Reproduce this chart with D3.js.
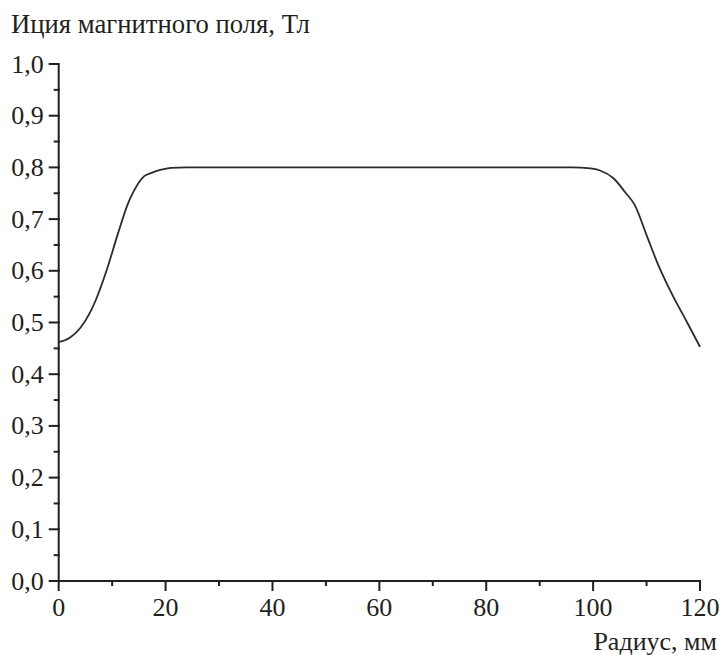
<!DOCTYPE html>
<html><head><meta charset="utf-8">
<script src="https://cdn.jsdelivr.net/npm/d3@7"></script>
<style>
html,body{margin:0;padding:0;background:#fff;}
svg{display:block;}
text{font-family:"Liberation Serif","Times New Roman",serif;fill:#231f20;}
</style></head>
<body>
<script>
const radius = [0, 2, 4, 6, 7, 9, 11, 13, 14, 16, 17.5, 19, 21, 24, 40, 60, 80, 96, 99.5, 101.3, 103.8, 106, 107.8, 110, 112.2, 115, 117.5, 120];
const induction = [0.462, 0.470, 0.489, 0.522, 0.545, 0.602, 0.669, 0.731, 0.753, 0.783, 0.790, 0.795, 0.799, 0.800, 0.800, 0.800, 0.800, 0.800, 0.798, 0.794, 0.779, 0.752, 0.727, 0.669, 0.611, 0.550, 0.502, 0.453];
const xTicks = [0, 20, 40, 60, 80, 100, 120];
const xMinor = [10, 30, 50, 70, 90, 110];
const yTicks = [0, 0.1, 0.2, 0.3, 0.4, 0.5, 0.6, 0.7, 0.8, 0.9, 1.0];
const yMinor = [0.05, 0.15, 0.25, 0.35, 0.45, 0.55, 0.65, 0.75, 0.85, 0.95];
const yTitle = "Иция магнитного поля, Тл";
const xTitle = "Радиус, мм";

const W = 721, H = 655;
const svg = d3.select("body").append("svg").attr("width", W).attr("height", H);
const x = d3.scaleLinear().domain([0, 120]).range([58.7, 700]);
const y = d3.scaleLinear().domain([0, 1]).range([581, 64]);
const fmt = d => d.toFixed(1).replace(".", ",");
const ink = "#231f20";
const fs = 26;

// x axis
const gx = svg.append("g").attr("transform", `translate(0,${y(0)})`);
gx.append("line").attr("x1", x(0)).attr("x2", x(120)).attr("stroke", ink).attr("stroke-width", 2);
gx.selectAll(".xmaj").data(xTicks).join("line")
  .attr("x1", d => x(d)).attr("x2", d => x(d)).attr("y1", -1).attr("y2", 10)
  .attr("stroke", ink).attr("stroke-width", 2);
gx.selectAll(".xmin").data(xMinor).join("line")
  .attr("x1", d => x(d)).attr("x2", d => x(d)).attr("y1", -1).attr("y2", 5)
  .attr("stroke", ink).attr("stroke-width", 2);
gx.selectAll(".xlab").data(xTicks).join("text")
  .attr("x", d => x(d)).attr("y", 35).attr("text-anchor", "middle")
  .attr("font-size", fs).text(d => d);

// y axis
const gy = svg.append("g").attr("transform", `translate(${x(0)},0)`);
gy.append("line").attr("y1", y(0)).attr("y2", y(1)).attr("stroke", ink).attr("stroke-width", 2);
gy.selectAll(".ymaj").data(yTicks).join("line")
  .attr("y1", d => y(d)).attr("y2", d => y(d)).attr("x1", -10).attr("x2", 1)
  .attr("stroke", ink).attr("stroke-width", 2);
gy.selectAll(".ymin").data(yMinor).join("line")
  .attr("y1", d => y(d)).attr("y2", d => y(d)).attr("x1", -5).attr("x2", 1)
  .attr("stroke", ink).attr("stroke-width", 2);
gy.selectAll(".ylab").data(yTicks).join("text")
  .attr("x", -15).attr("y", d => y(d)).attr("dy", "0.33em").attr("text-anchor", "end")
  .attr("font-size", fs).text(fmt);

// titles
svg.append("text").attr("x", 11).attr("y", 33).attr("font-size", 26.7).text(yTitle);
svg.append("text").attr("x", 717).attr("y", 650).attr("text-anchor", "end").attr("font-size", fs).text(xTitle);

// curve
const line = d3.line().x((d, i) => x(radius[i])).y(d => y(d)).curve(d3.curveMonotoneX);
svg.append("path").datum(induction).attr("d", line)
  .attr("fill", "none").attr("stroke", "#2b2b2b").attr("stroke-width", 1.8);
</script>
</body></html>
